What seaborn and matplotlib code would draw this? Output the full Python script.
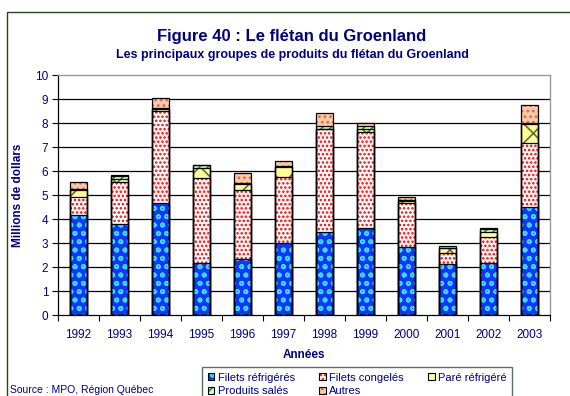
import matplotlib
matplotlib.use("Agg")
import matplotlib.pyplot as plt
from matplotlib.patches import Patch, Rectangle
from matplotlib.legend_handler import HandlerTuple
import numpy as np
import pandas as pd
import seaborn as sns

# Values in millions of dollars
years = [1992, 1993, 1994, 1995, 1996, 1997, 1998, 1999, 2000, 2001, 2002, 2003]
filets_refrigeres = [4.15, 3.78, 4.68, 2.18, 2.33, 2.99, 3.44, 3.61, 2.82, 2.11, 2.15, 4.49]
filets_congeles = [0.75, 1.75, 3.83, 3.54, 2.88, 2.77, 4.29, 4.03, 1.83, 0.49, 1.09, 2.69]
pare_refrigere = [0.30, 0.14, 0.06, 0.42, 0.26, 0.40, 0.02, 0.12, 0.12, 0.18, 0.23, 0.78]
produits_sales = [0.03, 0.12, 0.06, 0.11, 0.05, 0.05, 0.12, 0.10, 0.03, 0.02, 0.12, 0.03]
autres = [0.33, 0.03, 0.43, 0.02, 0.38, 0.21, 0.53, 0.16, 0.10, 0.09, 0.02, 0.76]

series_names = ["Filets réfrigérés", "Filets congelés", "Paré réfrigéré",
                "Produits salés", "Autres"]
series_values = [filets_refrigeres, filets_congeles, pare_refrigere,
                 produits_sales, autres]
# (face colour, hatch colour, hatch pattern)
styles = [
    ("#1236ff", "#33e0ff", "oo"),
    ("#ffffff", "#ff0000", "...."),
    ("#ffff99", "#6b6b2a", "x"),
    ("#ccffcc", "#2e8b2e", "////"),
    ("#ffcc99", "#cc6688", "..."),
]

NAVY = "#000080"

sns.set_theme(style="white")
plt.rcParams["font.family"] = ["Liberation Sans", "DejaVu Sans"]
plt.rcParams["hatch.linewidth"] = 1.2

df = pd.DataFrame({"Année": [str(y) for y in years]})
cum = np.zeros(len(years))
for name, vals in zip(series_names, series_values):
    cum = cum + np.array(vals)
    df[name] = cum.copy()

fig = plt.figure(figsize=(5.70, 3.96), dpi=100)
ax = fig.add_axes([58 / 570, 1 - 315 / 396, (550 - 58) / 570, (315 - 75) / 396])

bar_w = 0.42
# hatched fills, tallest cumulative layer first so lower layers cover it
for name, (face, hcol, hatch) in reversed(list(zip(series_names, styles))):
    sns.barplot(data=df, x="Année", y=name, color=face, saturation=1,
                width=bar_w, errorbar=None, hatch=hatch, edgecolor=hcol,
                linewidth=0, ax=ax, zorder=2)
# black outlines of each segment
for name in series_names:
    sns.barplot(data=df, x="Année", y=name, color="black", fill=False,
                saturation=1, width=bar_w, errorbar=None, linewidth=0.9,
                ax=ax, zorder=3)

ax.set_ylim(0, 10)
ax.set_xlim(-0.5, len(years) - 0.5)
ax.set_yticks(range(0, 11))
for v in range(1, 10):
    ax.axhline(v, color="black", lw=0.9, zorder=1)

ax.set_xticks(np.arange(-0.5, len(years), 1.0), minor=True)
ax.set_xticks(range(len(years)))
ax.set_xticklabels([str(y) for y in years])
ax.tick_params(axis="x", which="major", length=0, pad=10, labelsize=8.5,
               labelcolor=NAVY)
ax.tick_params(axis="x", which="minor", length=4, width=0.8, color="black",
               direction="out", bottom=True)
ax.tick_params(axis="y", length=4, width=0.8, color="black", direction="out",
               left=True, pad=3, labelsize=8.5, labelcolor=NAVY)

for side in ["left", "bottom"]:
    ax.spines[side].set_color("black")
    ax.spines[side].set_linewidth(0.9)
for side in ["top", "right"]:
    ax.spines[side].set_color("#999999")
    ax.spines[side].set_linewidth(1.0)

ax.set_xlabel("Années", fontsize=8.5, fontweight="bold", color=NAVY, labelpad=6)
ax.set_ylabel("Millions de dollars", fontsize=8.5, fontweight="bold",
              color=NAVY, labelpad=8)

fig.text(292 / 570, 1 - 37 / 396, "Figure 40 : Le flétan du Groenland",
         ha="center", va="center", fontsize=12, fontweight="bold", color=NAVY)
fig.text(292 / 570, 1 - 55 / 396,
         "Les principaux groupes de produits du flétan du Groenland",
         ha="center", va="center", fontsize=9, fontweight="bold", color=NAVY)

fig.text(10 / 570, 1 - 390 / 396, "Source : MPO, Région Québec",
         ha="left", va="center", fontsize=7.5, color=NAVY)

# legend filled row by row: reorder for matplotlib's column filling
handles = []
for face, hcol, hatch in styles:
    handles.append((Patch(facecolor=face, edgecolor=hcol, hatch=hatch, lw=0),
                    Patch(fill=False, edgecolor="black", lw=0.8)))
order = [0, 3, 1, 4, 2]
leg = fig.legend([handles[i] for i in order], [series_names[i] for i in order],
                 handler_map={tuple: HandlerTuple(ndivide=1, pad=0)},
                 ncol=3, loc="upper left",
                 bbox_to_anchor=(202 / 570, 1 - 367 / 396),
                 frameon=True, fancybox=False, fontsize=8,
                 handlelength=0.6, handleheight=0.6, handletextpad=0.3,
                 columnspacing=2.2, borderpad=0.5, labelspacing=0.35,
                 borderaxespad=0)
leg.get_frame().set_edgecolor("#2f4f2f")
leg.get_frame().set_linewidth(1.0)
for t in leg.get_texts():
    t.set_color(NAVY)

# outer frame of the figure
fig.patches.append(Rectangle((7 / 570, -0.2), 1.2, 1.2 - 12 / 396,
                             transform=fig.transFigure, fill=False,
                             edgecolor="#1f4a1f", lw=1.0))

fig.savefig("out.png", dpi=100)
